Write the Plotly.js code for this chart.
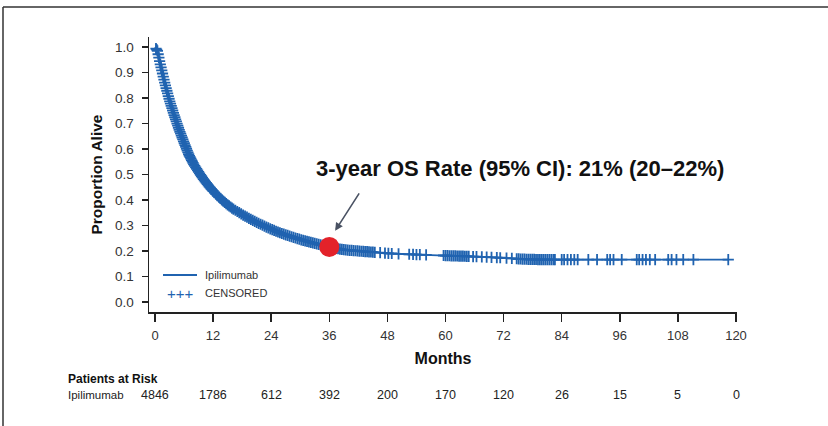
<!DOCTYPE html>
<html>
<head>
<meta charset="utf-8">
<script src="https://cdn.plot.ly/plotly-3.0.1.min.js"></script>
<style>
html,body{margin:0;padding:0;background:#fff;}
#chart{width:828px;height:426px;}
</style>
</head>
<body>
<div id="chart"></div>
<script>
// Kaplan-Meier curve (months, proportion alive)
const curveMonths = [0,0.5,1,1.5,2,3,4,5,6,7,8,9,10,11,12,13,14,15,16,18,20,22,24,26,28,30,32,34,36,38,40,44,48,54,60,66,72,76,80,90,100,110,118.5];
const curveSurv   = [1.0,0.985,0.94,0.90,0.86,0.79,0.73,0.675,0.625,0.577,0.54,0.51,0.482,0.457,0.435,0.415,0.397,0.381,0.367,0.343,0.322,0.303,0.285,0.27,0.257,0.245,0.235,0.225,0.216,0.208,0.203,0.197,0.191,0.186,0.182,0.178,0.173,0.168,0.166,0.166,0.166,0.166,0.166];

// Censoring times (months)
const censorMonths = [0.2,0.35,0.5,0.65,0.8,0.95,1.1,1.25,1.4,1.55,1.7,1.85,2.0,2.15,2.3,2.45,2.6,2.75,2.9,3.05,3.2,3.35,3.5,3.65,3.8,3.95,4.1,4.25,4.4,4.55,4.7,4.85,5.0,5.15,5.3,5.45,5.6,5.75,5.9,6.05,6.2,6.35,6.5,6.65,6.8,6.95,7.1,7.25,7.4,7.55,7.7,7.85,8.0,8.2,8.4,8.6,8.8,9.0,9.2,9.4,9.6,9.8,10.0,10.2,10.4,10.6,10.8,11.0,11.2,11.4,11.6,11.8,12.0,12.3,12.6,12.9,13.2,13.5,13.8,14.1,14.4,14.7,15.0,15.3,15.6,15.9,16.2,16.6,17.0,17.4,17.8,18.2,18.6,19.0,19.4,19.8,20.2,20.6,21.0,21.4,21.8,22.2,22.6,23.0,23.4,23.8,24.2,24.6,25.0,25.4,25.8,26.2,26.6,27.0,27.4,27.8,28.2,28.6,29.0,29.4,29.8,30.2,30.6,31.0,31.4,31.8,32.2,32.6,33.0,33.4,33.8,34.2,34.6,35.0,35.4,37.0,37.4,37.8,38.2,38.6,39.0,39.4,39.8,40.2,40.6,41.0,41.4,41.8,42.2,42.6,43.0,43.4,43.8,44.2,44.6,45.0,45.4,46.5,47.5,48.2,48.9,50.3,52.5,53.3,54.0,54.7,56.0,59.6,60.0,60.4,60.8,61.2,61.6,62.0,62.4,62.8,63.2,63.6,64.0,64.4,64.8,65.7,66.4,67.5,68.5,69.5,70.6,71.3,72.6,73.7,74.7,75.1,75.5,75.9,76.3,76.7,77.1,77.5,77.9,78.3,78.7,79.1,79.5,79.9,80.3,80.7,81.1,81.5,81.9,82.3,82.6,84.0,84.5,85.2,85.9,86.6,87.3,89.5,91.3,93.4,94.0,94.7,96.4,99.5,100.0,100.7,101.4,102.2,103.3,106.0,106.7,107.7,109.1,111.2,118.4];

// Highlighted 3-year point
const highlightMonth = [36];
const highlightSurv = [0.216];

// Risk table
const riskMonths = [0,12,24,36,48,60,72,84,96,108,120];
const riskCounts = [4846,1786,612,392,200,170,120,26,15,5,0];
const xTicks = [0,12,24,36,48,60,72,84,96,108,120];
const yTicks = [0,0.1,0.2,0.3,0.4,0.5,0.6,0.7,0.8,0.9,1.0];

function survAt(t){
  for(let i=1;i<curveMonths.length;i++){
    if(t<=curveMonths[i]){
      const f=(t-curveMonths[i-1])/(curveMonths[i]-curveMonths[i-1]);
      return curveSurv[i-1]+f*(curveSurv[i]-curveSurv[i-1]);
    }
  }
  return curveSurv[curveSurv.length-1];
}
const censorSurv = censorMonths.map(survAt);

const BLUE = '#2063b0';
const FONT = 'Liberation Sans, Arial, sans-serif';

const traces = [
  {x:curveMonths, y:curveSurv, mode:'lines', line:{color:BLUE,width:1.8,shape:'spline',smoothing:0.6}, hoverinfo:'skip', showlegend:false},
  {x:censorMonths, y:censorSurv, mode:'markers', marker:{symbol:'cross-thin-open',size:8,line:{color:BLUE,width:1.8},color:BLUE}, hoverinfo:'skip', showlegend:false},
  {x:highlightMonth, y:highlightSurv, mode:'markers', marker:{symbol:'circle',size:20,color:'#e3222a'}, hoverinfo:'skip', showlegend:false}
];

// paper coordinate helpers (plot area: x 149..737, y 37..312)
const px = v => (v-149)/588;
const py = v => (312-v)/275;

const layout = {
  width:828, height:426,
  margin:{l:149,r:91,t:37,b:114,pad:0},
  paper_bgcolor:'#fff', plot_bgcolor:'#fff',
  font:{family:FONT,color:'#333',size:13},
  showlegend:false,
  xaxis:{
    range:[-1.239,120.206], tickmode:'array', tickvals:xTicks, ticktext:xTicks.map(String),
    showline:true, linecolor:'#222', linewidth:1.5, ticks:'outside', ticklen:8, tickwidth:1.5, tickcolor:'#222',
    showgrid:false, zeroline:false, ticklabelstandoff:3,
    tickfont:{size:13,color:'#333',family:FONT},
    title:{text:'<b>Months</b>', font:{size:16,color:'#111',family:FONT}, standoff:10}
  },
  yaxis:{
    range:[-0.0392,1.0392], tickmode:'array', tickvals:yTicks, ticktext:yTicks.map(v=>v.toFixed(1)),
    showline:true, linecolor:'#222', linewidth:1.5, ticks:'outside', ticklen:6, tickwidth:1.5, tickcolor:'#222',
    showgrid:false, zeroline:false, ticklabelstandoff:5,
    tickfont:{size:13.5,color:'#333',family:FONT},
    title:{text:'<b>Proportion Alive</b>', font:{size:15.5,color:'#111',family:FONT}, standoff:8}
  },
  shapes:[
    {type:'line', xref:'paper', yref:'paper', x0:px(3), x1:px(828), y0:py(7), y1:py(7), line:{color:'#333',width:1.5}},
    {type:'line', xref:'paper', yref:'paper', x0:px(3), x1:px(3), y0:py(7), y1:py(426), line:{color:'#333',width:1.5}},
    {type:'line', xref:'paper', yref:'paper', x0:px(163), x1:px(197), y0:py(275), y1:py(275), line:{color:BLUE,width:2}}
  ],
  annotations:[
    {xref:'paper', yref:'paper', x:px(203), y:py(275), xanchor:'left', yanchor:'middle', text:'Ipilimumab', showarrow:false, font:{size:11,color:'#333'}},
    {xref:'paper', yref:'paper', x:px(180), y:py(293), xanchor:'center', yanchor:'middle', text:'+++', showarrow:false, font:{size:15,color:BLUE}},
    {xref:'paper', yref:'paper', x:px(203), y:py(293), xanchor:'left', yanchor:'middle', text:'CENSORED', showarrow:false, font:{size:11,color:'#333'}},
    {xref:'paper', yref:'paper', x:px(520), y:py(168), xanchor:'center', yanchor:'middle', text:'<b>3-year OS Rate (95% CI): 21% (20–22%)</b>', showarrow:false, font:{size:22,color:'#111'}},
    {x:37.2, y:0.279, xref:'x', yref:'y', text:'', showarrow:true, ax:25, ay:-39, arrowhead:2, arrowsize:1, arrowwidth:1.6, arrowcolor:'#4a5263'},
    {xref:'paper', yref:'paper', x:px(66), y:py(379), xanchor:'left', yanchor:'middle', text:'<b>Patients at Risk</b>', showarrow:false, font:{size:12,color:'#111'}},
    {xref:'paper', yref:'paper', x:px(66), y:py(395), xanchor:'left', yanchor:'middle', text:'Ipilimumab', showarrow:false, font:{size:11.5,color:'#222'}}
  ].concat(riskMonths.map((m,i)=>({
    x:m, xref:'x', yref:'paper', y:py(395), xanchor:'center', yanchor:'middle', text:String(riskCounts[i]), showarrow:false, font:{size:12.5,color:'#222'}
  })))
};

Plotly.newPlot('chart', traces, layout, {staticPlot:true, displayModeBar:false});
</script>
</body>
</html>
